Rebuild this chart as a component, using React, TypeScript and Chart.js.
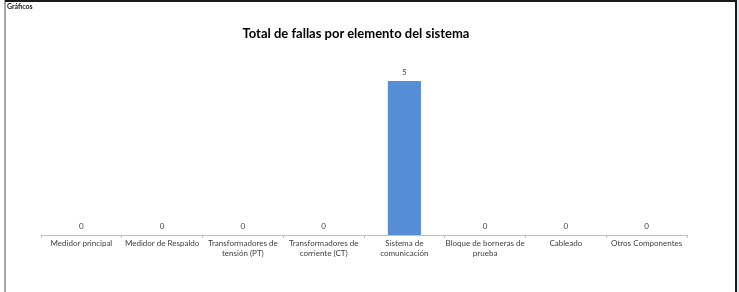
import React, { useEffect, useRef } from "react";
import { Chart, registerables } from "chart.js";

Chart.register(...registerables);

const categories: (string | string[])[] = [
  "Medidor principal",
  "Medidor de Respaldo",
  ["Transformadores de", "tensión (PT)"],
  ["Transformadores de", "corriente (CT)"],
  ["Sistema de", "comunicación"],
  ["Bloque de borneras de", "prueba"],
  "Cableado",
  "Otros Componentes",
];
const fallas: number[] = [0, 0, 0, 0, 5, 0, 0, 0];
const chartTitle = "Total de fallas por elemento del sistema";
const sheetLabel = "Gráficos";

const FONT = "Lato, 'Open Sans', sans-serif";

const valueLabels = {
  id: "valueLabels",
  afterDatasetsDraw(chart: any) {
    const ctx = chart.ctx;
    const meta = chart.getDatasetMeta(0);
    const data = chart.data.datasets[0].data as number[];
    ctx.save();
    ctx.font = `8px ${FONT}`;
    ctx.fillStyle = "#404040";
    ctx.textAlign = "center";
    ctx.textBaseline = "bottom";
    meta.data.forEach((bar: any, i: number) => {
      ctx.fillText(String(data[i]), bar.x, bar.y - 5);
    });
    ctx.restore();
  },
};

export default function App() {
  const ref = useRef<HTMLCanvasElement | null>(null);
  useEffect(() => {
    if (!ref.current) return;
    const chart = new Chart(ref.current, {
      type: "bar",
      data: {
        labels: categories,
        datasets: [
          {
            data: fallas,
            backgroundColor: "#568ed6",
            barPercentage: 0.41,
            categoryPercentage: 1,
          },
        ],
      },
      options: {
        animation: false,
        responsive: false,
        layout: { padding: { left: 41, right: 52, top: 81, bottom: 0 } },
        plugins: {
          legend: { display: false },
          title: { display: false },
          tooltip: { enabled: false },
        },
        scales: {
          y: { display: false, min: 0, max: 5 },
          x: {
            afterFit: (s: any) => {
              s.height = 57;
            },
            border: { display: true, color: "#bfbfbf" },
            grid: {
              display: true,
              drawOnChartArea: false,
              drawTicks: true,
              tickLength: 3,
              color: "#bfbfbf",
            },
            ticks: {
              font: { family: FONT, size: 8 },
              color: "#404040",
              padding: 1,
              maxRotation: 0,
              autoSkip: false,
            },
          },
        },
      },
      plugins: [valueLabels],
    });
    return () => chart.destroy();
  }, []);

  return (
    <div
      style={{
        position: "fixed",
        left: 0,
        top: 0,
        width: 739,
        height: 292,
        background: "#fff",
        overflow: "hidden",
      }}
    >
      <canvas ref={ref} width={739} height={292} style={{ position: "absolute", left: 0, top: 0 }} />
      <div style={{ position: "absolute", left: 4, top: 0, width: 2, height: 292, background: "#a6a6a6" }} />
      <div style={{ position: "absolute", left: 5, top: 0, width: 731, height: 2, background: "#1a1a1a" }} />
      <div style={{ position: "absolute", left: 735, top: 0, width: 2, height: 292, background: "#1a1a1a" }} />
      <div style={{ position: "absolute", left: 737, top: 0, width: 2, height: 292, background: "#dce6f2" }} />
      <div
        style={{
          position: "absolute",
          left: 7,
          top: 2,
          fontFamily: FONT,
          fontWeight: 700,
          fontSize: 7,
          lineHeight: "9px",
          color: "#1a1a1a",
        }}
      >
        {sheetLabel}
      </div>
      <div
        style={{
          position: "absolute",
          left: 156,
          width: 400,
          top: 24,
          textAlign: "center",
          fontFamily: FONT,
          fontWeight: 700,
          fontSize: 13,
          lineHeight: "18px",
          color: "#000",
        }}
      >
        {chartTitle}
      </div>
    </div>
  );
}
